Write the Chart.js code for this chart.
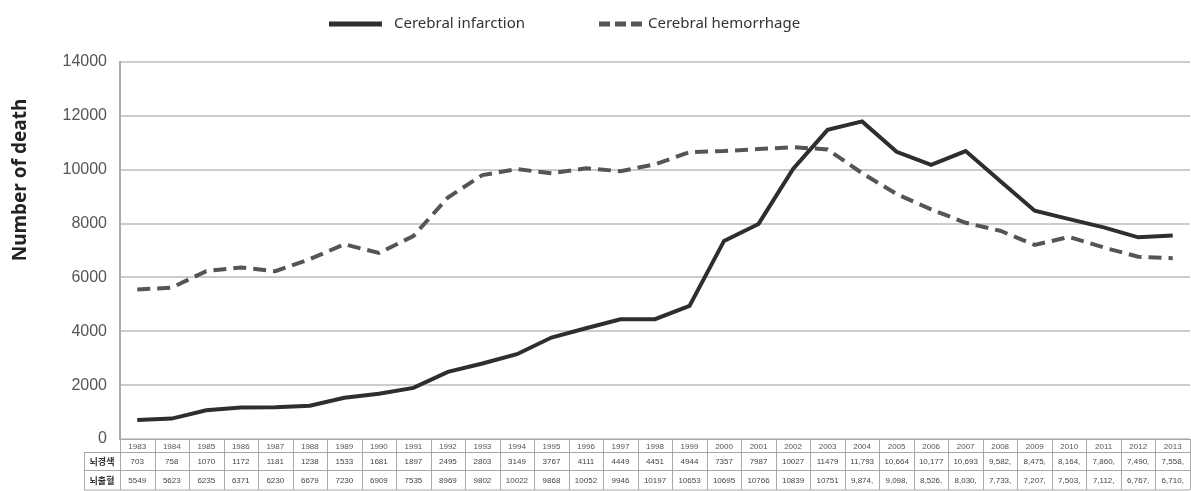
<!DOCTYPE html>
<html>
<head>
<meta charset="utf-8">
<script src="https://cdn.jsdelivr.net/npm/chart.js@4/dist/chart.umd.min.js"></script>
<style>
  html, body { margin: 0; padding: 0; background: #fff; }
  #wrap { width: 1191px; height: 491px; position: relative; }
</style>
</head>
<body>
<div id="wrap"><canvas id="c"></canvas></div>
<script>
const years = ['1983','1984','1985','1986','1987','1988','1989','1990','1991','1992','1993','1994','1995','1996','1997','1998','1999','2000','2001','2002','2003','2004','2005','2006','2007','2008','2009','2010','2011','2012','2013'];
const infarction = [703,758,1070,1172,1181,1238,1533,1681,1897,2495,2803,3149,3767,4111,4449,4451,4944,7357,7987,10027,11479,11793,10664,10177,10693,9582,8475,8164,7860,7490,7558];
const hemorrhage = [5549,5623,6235,6371,6230,6679,7230,6909,7535,8969,9802,10022,9868,10052,9946,10197,10653,10695,10766,10839,10751,9874,9098,8526,8030,7733,7207,7503,7112,6767,6710];
const seriesNames = ['Cerebral infarction', 'Cerebral hemorrhage'];
const rowLabels = ['뇌경색', '뇌출혈'];
const yTitle = 'Number of death';
const yTicks = [0, 2000, 4000, 6000, 8000, 10000, 12000, 14000];

// table text formatting as printed in the source table
function fmtInf(v, i) {
  if (i < 21) return String(v);
  const s = v.toLocaleString('en-US');
  return i >= 25 ? s + ',' : s;
}
function fmtHem(v, i) {
  if (i < 21) return String(v);
  return v.toLocaleString('en-US') + ',';
}

const legendAndTable = {
  id: 'legendAndTable',
  afterDraw(chart) {
    const ctx = chart.ctx;
    const xs = chart.scales.x;
    const area = chart.chartArea;
    const n = years.length;
    const step = xs.getPixelForValue(1) - xs.getPixelForValue(0);
    const half = step / 2;
    const top = area.bottom;
    const r1 = 452.5, r2 = 470.5, bot = 490;
    const labelLeft = 84;

    ctx.save();
    // table grid
    ctx.strokeStyle = '#a8a8a8';
    ctx.lineWidth = 1;
    ctx.beginPath();
    for (let i = 0; i <= n; i++) {
      const x = Math.round(xs.getPixelForValue(0) - half + i * step) + 0.5;
      ctx.moveTo(x, top); ctx.lineTo(x, bot);
    }
    ctx.moveTo(labelLeft + 0.5, r1); ctx.lineTo(labelLeft + 0.5, bot);
    ctx.moveTo(area.left, top + 0.5); ctx.lineTo(area.right, top + 0.5);
    ctx.moveTo(labelLeft, r1); ctx.lineTo(area.right, r1);
    ctx.moveTo(labelLeft, r2); ctx.lineTo(area.right, r2);
    ctx.moveTo(labelLeft, bot); ctx.lineTo(area.right, bot);
    ctx.stroke();

    // row labels
    ctx.fillStyle = '#333';
    ctx.textAlign = 'center';
    ctx.textBaseline = 'middle';
    ctx.font = 'bold 9px "Noto Sans CJK KR"';
    const lx = (labelLeft + area.left) / 2;
    ctx.fillText(rowLabels[0], lx, (r1 + r2) / 2);
    ctx.fillText(rowLabels[1], lx, (r2 + bot) / 2);

    // values
    ctx.font = '8px "Liberation Sans", Arial';
    ctx.fillStyle = '#444';
    for (let i = 0; i < n; i++) {
      const x = xs.getPixelForValue(i);
      ctx.fillText(fmtInf(infarction[i], i), x, (r1 + r2) / 2 + 0.5);
      ctx.fillText(fmtHem(hemorrhage[i], i), x, (r2 + bot) / 2 + 0.5);
    }

    // legend
    const ly = 24;
    const ds = chart.data.datasets;
    const items = [
      { x0: 329, x1: 382, tx: 394 },
      { x0: 599, x1: 642, tx: 648 }
    ];
    items.forEach((it, k) => {
      const d = ds[k];
      ctx.strokeStyle = d.borderColor;
      ctx.lineWidth = 5;
      ctx.setLineDash(k === 1 ? [11, 5] : []);
      ctx.lineCap = 'butt';
      ctx.beginPath();
      ctx.moveTo(it.x0, ly); ctx.lineTo(it.x1, ly);
      ctx.stroke();
      ctx.setLineDash([]);
      ctx.fillStyle = '#333';
      ctx.textAlign = 'left';
      ctx.textBaseline = 'middle';
      ctx.font = '15px "Noto Sans"';
      ctx.fillText(d.label, it.tx, ly);
    });

    // y-axis title
    ctx.save();
    ctx.translate(21, 180);
    ctx.rotate(-Math.PI / 2);
    ctx.font = 'bold 19px "Noto Sans"';
    ctx.fillStyle = '#222';
    ctx.textAlign = 'center';
    ctx.textBaseline = 'middle';
    ctx.fillText(yTitle, 0, 0);
    ctx.restore();

    ctx.restore();
  }
};

new Chart(document.getElementById('c'), {
  type: 'line',
  data: {
    labels: years,
    datasets: [
      {
        label: seriesNames[0],
        data: infarction,
        borderColor: '#2e2e2e',
        backgroundColor: '#2e2e2e',
        borderWidth: 4,
        pointRadius: 0,
        tension: 0,
        fill: false
      },
      {
        label: seriesNames[1],
        data: hemorrhage,
        borderColor: '#555555',
        backgroundColor: '#555555',
        borderWidth: 4,
        borderDash: [13, 7],
        pointRadius: 0,
        tension: 0,
        fill: false
      }
    ]
  },
  options: {
    responsive: true,
    maintainAspectRatio: false,
    animation: false,
    layout: { padding: { top: 62, right: 1, bottom: 0, left: 0 } },
    plugins: {
      legend: { display: false },
      tooltip: { enabled: false }
    },
    scales: {
      x: {
        type: 'category',
        offset: true,
        grid: { display: false, drawTicks: false },
        border: { display: false },
        ticks: {
          color: '#555',
          font: { size: 8, family: '"Liberation Sans", Arial' },
          padding: 3,
          maxRotation: 0,
          autoSkip: false
        },
        afterFit(scale) { scale.height = 52; }
      },
      y: {
        min: 0,
        max: 14000,
        afterBuildTicks(scale) { scale.ticks = yTicks.map(v => ({ value: v })); },
        grid: { color: '#cccccc', lineWidth: 2, drawTicks: false },
        border: { color: '#aaaaaa', width: 2 },
        ticks: {
          color: '#555',
          font: { size: 16, family: '"Liberation Sans", Arial' },
          padding: 13,
          callback: (v) => String(v)
        },
        afterFit(scale) { scale.width = 120; }
      }
    }
  },
  plugins: [legendAndTable]
});
</script>
</body>
</html>
